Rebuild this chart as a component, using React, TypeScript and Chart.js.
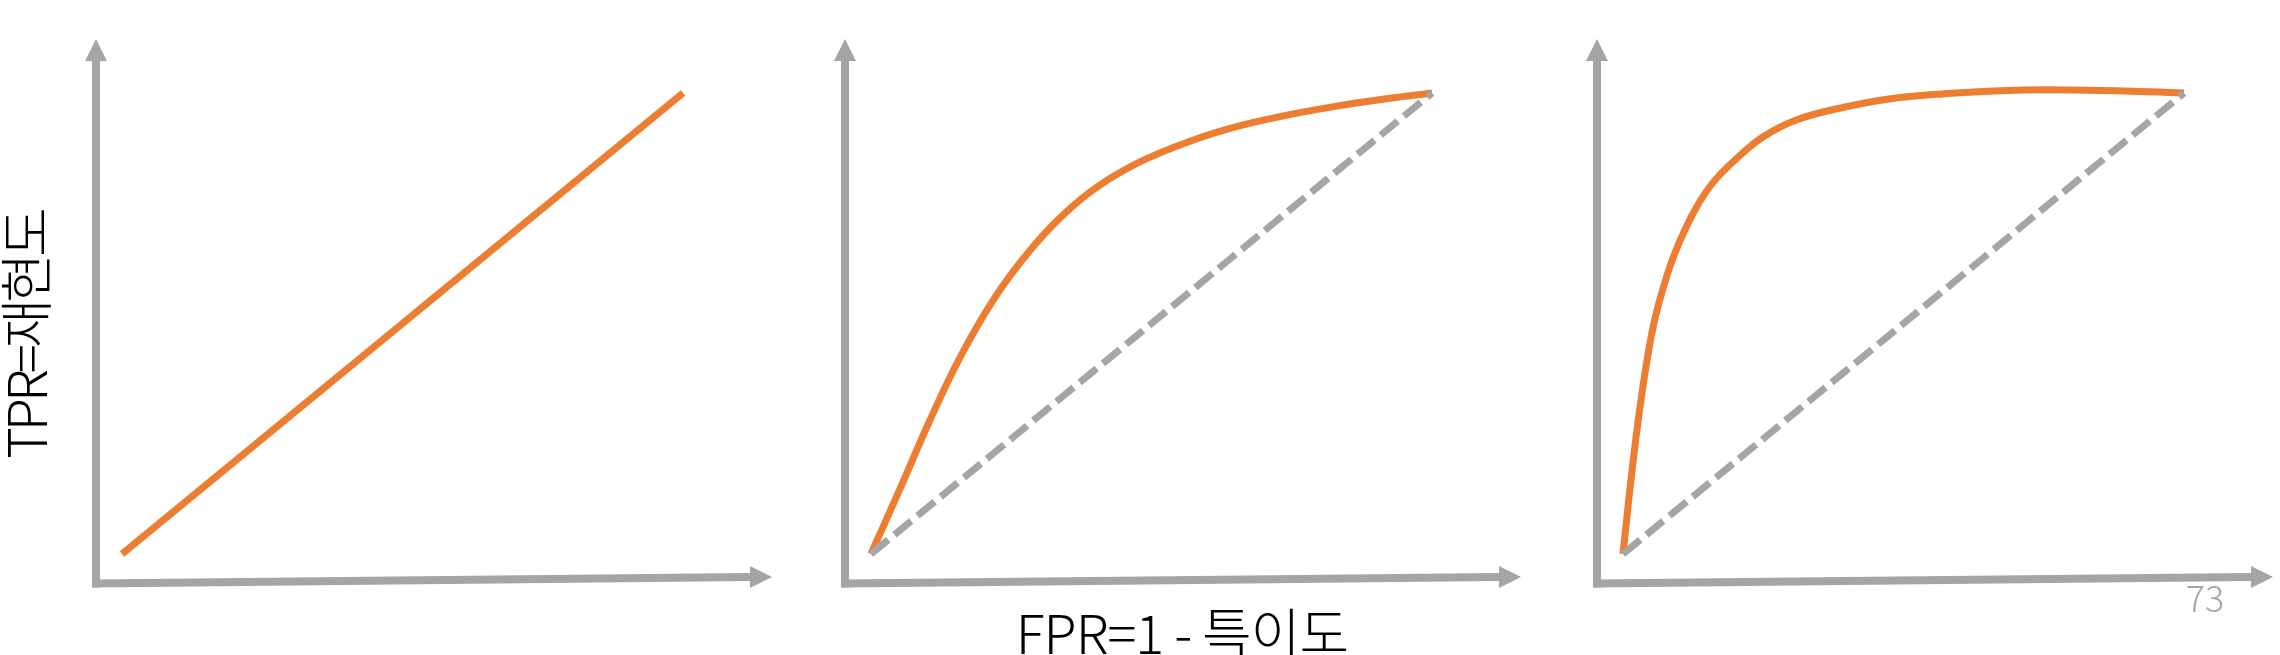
import { useEffect, useRef } from 'react';
import Chart from 'chart.js/auto';

// ROC curves: x = FPR, y = TPR
const diagonalX = [0, 1];
const diagonalY = [0, 1];

const fairCurveX = [0, 0.053, 0.105, 0.158, 0.219, 0.281, 0.342, 0.404, 0.482, 0.57, 0.658, 0.746, 0.833, 0.921, 1];
const fairCurveY = [0, 0.145, 0.29, 0.425, 0.553, 0.655, 0.735, 0.797, 0.852, 0.896, 0.929, 0.953, 0.972, 0.988, 1];

const goodCurveX = [0, 0.017, 0.034, 0.055, 0.08, 0.1, 0.13, 0.16, 0.2, 0.25, 0.31, 0.39, 0.48, 0.57, 0.7, 0.83, 1];
const goodCurveY = [0, 0.19, 0.35, 0.5, 0.61, 0.675, 0.75, 0.805, 0.855, 0.905, 0.942, 0.968, 0.988, 0.998, 1.006, 1.006, 1];

const xTitle = 'FPR=1 - 특이도';
const yTitle = 'TPR=재현도';
const pageNumber = '73';

const ORANGE = '#ED7D31';
const GREY = '#A5A5A5';
const FONT = '"Noto Sans CJK KR", "Noto Sans", sans-serif';

const toPoints = (xs: number[], ys: number[]) => xs.map((x, i) => ({ x, y: ys[i] }));

// draws the two grey arrow axes along the chart area edges
const arrowAxes = {
    id: 'arrowAxes',
    beforeDatasetsDraw(chart: Chart) {
        const { ctx, chartArea } = chart;
        const { left, right, top, bottom } = chartArea;
        const head = 22;
        const half = 11;
        const tilt = 6.5;
        ctx.save();
        ctx.fillStyle = GREY;
        ctx.strokeStyle = GREY;
        ctx.lineWidth = 8;
        ctx.lineCap = 'butt';

        ctx.beginPath();
        ctx.moveTo(left, bottom + 4);
        ctx.lineTo(left, top + head);
        ctx.stroke();
        ctx.beginPath();
        ctx.moveTo(left, top);
        ctx.lineTo(left - half, top + head);
        ctx.lineTo(left + half, top + head);
        ctx.closePath();
        ctx.fill();

        const tipY = bottom - tilt;
        ctx.beginPath();
        ctx.moveTo(left - 4, bottom);
        ctx.lineTo(right - head, tipY);
        ctx.stroke();
        ctx.beginPath();
        ctx.moveTo(right, tipY);
        ctx.lineTo(right - head, tipY - half);
        ctx.lineTo(right - head, tipY + half);
        ctx.closePath();
        ctx.fill();
        ctx.restore();
    }
};

type Series = { xs: number[]; ys: number[]; dashed: boolean };

const RocPanel = ({ left, series }: { left: number; series: Series[] }) => {
    const canvas = useRef<HTMLCanvasElement>(null);

    useEffect(() => {
        const chart = new Chart(canvas.current as HTMLCanvasElement, {
            type: 'line',
            data: {
                datasets: series.map(s => ({
                    data: toPoints(s.xs, s.ys),
                    borderColor: s.dashed ? GREY : ORANGE,
                    borderWidth: 7,
                    borderDash: s.dashed ? [22, 8] : [],
                    borderCapStyle: 'butt' as const,
                    borderJoinStyle: 'round' as const,
                    pointRadius: 0,
                    fill: false,
                    tension: 0.4
                }))
            },
            options: {
                animation: false,
                responsive: true,
                maintainAspectRatio: false,
                layout: { padding: { left: 20, right: 4, top: 39, bottom: 71.5 } },
                scales: {
                    x: { type: 'linear', min: -0.0463, max: 1.1586, display: false },
                    y: { type: 'linear', min: -0.064, max: 1.1171, display: false }
                },
                plugins: {
                    legend: { display: false },
                    tooltip: { enabled: false }
                },
                clip: false
            },
            plugins: [arrowAxes]
        });

        return () => {
            chart.destroy();
        };
    }, []);

    return (
        <div style={{ position: 'absolute', left, top: 0, width: 700, height: 655 }}>
            <canvas ref={canvas}></canvas>
        </div>
    );
};

const App = () => {
    return (
        <div style={{ position: 'absolute', left: 0, top: 0, width: 2280, height: 655, overflow: 'hidden', background: '#fff' }}>
            <RocPanel left={76} series={[{ xs: diagonalX, ys: diagonalY, dashed: false }]} />
            <RocPanel
                left={825}
                series={[
                    { xs: diagonalX, ys: diagonalY, dashed: true },
                    { xs: fairCurveX, ys: fairCurveY, dashed: false }
                ]}
            />
            <RocPanel
                left={1577}
                series={[
                    { xs: diagonalX, ys: diagonalY, dashed: true },
                    { xs: goodCurveX, ys: goodCurveY, dashed: false }
                ]}
            />
            <div
                style={{
                    position: 'absolute', left: 24, top: 335,
                    transform: 'translate(-50%, -50%) rotate(-90deg)',
                    font: `300 54px/54px ${FONT}`, letterSpacing: -4, color: '#000', whiteSpace: 'nowrap'
                }}
            >{yTitle}</div>
            <div
                style={{
                    position: 'absolute', left: 1182, top: 604,
                    transform: 'translateX(-50%)',
                    font: `300 54px/54px ${FONT}`, letterSpacing: -1, color: '#000', whiteSpace: 'nowrap'
                }}
            >{xTitle}</div>
            <div
                style={{
                    position: 'absolute', left: 2205, top: 578,
                    transform: 'translateX(-50%)',
                    font: `300 36px/36px ${FONT}`, color: GREY, whiteSpace: 'nowrap'
                }}
            >{pageNumber}</div>
        </div>
    );
};

export default App;
